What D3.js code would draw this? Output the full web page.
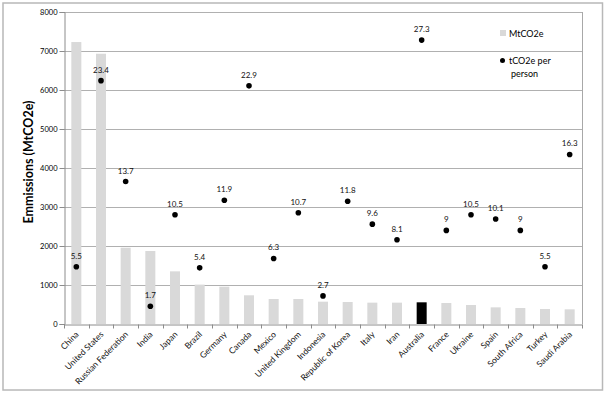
<!DOCTYPE html>
<html lang="en">
<head>
    <meta charset="UTF-8">
    <script src="https://d3js.org/d3.v7.min.js"></script>
    <title>Emissions</title>
    <style>
        body { margin: 0; background: #fff; }
        text { font-family: Lato, "Open Sans", sans-serif; }
    </style>
</head>
<body>
    <div id="canvas"></div>
</body>
    <script>
        const countries = ["China","United States","Russian Federation","India","Japan","Brazil","Germany","Canada","Mexico","United Kingdom","Indonesia","Republic of Korea","Italy","Iran","Australia","France","Ukraine","Spain","South Africa","Turkey","Saudi Arabia"]
        const mtco2e = [7230,6930,1956,1872,1350,1010,957,736,641,641,572,564,547,547,556,538,487,427,410,385,376]
        const perPerson = [5.5,23.4,13.7,1.7,10.5,5.4,11.9,22.9,6.3,10.7,2.7,11.8,9.6,8.1,27.3,9,10.5,10.1,9,5.5,16.3]
        const yTicks = [0,1000,2000,3000,4000,5000,6000,7000,8000]
        const highlight = "Australia"

        const W = 606, H = 396
        const margin = {top:12, right:24, bottom:72, left:64}
        const gW = 582 - margin.left
        const gH = 324 - margin.top

        const svg = d3.select("#canvas").append("svg").attr("width",W).attr("height",H)

        // outer frame
        svg.append("rect")
           .attr("x",3).attr("y",3).attr("width",599.5).attr("height",387)
           .attr("fill","none").attr("stroke","#b8b8b8").attr("stroke-width",1.5)

        const g = svg.append("g").attr("transform",`translate(${margin.left},${margin.top})`)

        const x = d3.scaleBand().domain(countries).range([0,gW])
        const y = d3.scaleLinear().domain([0,8000]).range([gH,0])
        const y2 = d3.scaleLinear().domain([0,30]).range([gH,0])

        // gridlines
        g.selectAll(".grid").data(yTicks.slice(1)).enter().append("line")
         .attr("x1",0).attr("x2",gW)
         .attr("y1",d=>Math.round(y(d))+0.5).attr("y2",d=>Math.round(y(d))+0.5)
         .attr("stroke","#b0b0b0").attr("stroke-width",1.2)
        g.append("line").attr("x1",gW+0.5).attr("x2",gW+0.5).attr("y1",0).attr("y2",gH)
         .attr("stroke","#a8a8a8")

        // bars
        const bw = 10
        g.selectAll(".bar").data(countries).enter().append("rect")
         .attr("x",d=>x(d)+x.bandwidth()/2-bw/2)
         .attr("width",bw)
         .attr("y",(d,i)=>y(mtco2e[i]))
         .attr("height",(d,i)=>gH-y(mtco2e[i]))
         .attr("fill",d=>d===highlight?"#000":"#d9d9d9")

        // dots
        g.selectAll(".dot").data(countries).enter().append("circle")
         .attr("cx",d=>x(d)+x.bandwidth()/2)
         .attr("cy",(d,i)=>y2(perPerson[i]))
         .attr("r",2.8).attr("fill","#000")
        g.selectAll(".lbl").data(countries).enter().append("text")
         .attr("x",d=>x(d)+x.bandwidth()/2)
         .attr("y",(d,i)=>y2(perPerson[i])-8)
         .attr("text-anchor","middle").style("font-size","8px").attr("fill","#111")
         .text((d,i)=>perPerson[i])

        // y axis
        const yAxis = d3.axisLeft(y).tickValues(yTicks).tickSize(5).tickFormat(d3.format("d"))
        const gy = g.append("g").attr("transform","translate(0.5,0)").call(yAxis)
        gy.select(".domain").attr("stroke","#8c8c8c")
        gy.selectAll(".tick line").attr("stroke","#8c8c8c")
        gy.selectAll(".tick text").style("font-size","7.5px").attr("fill","#000").attr("x",-7)

        // x axis
        const xAxis = d3.axisBottom(x).tickSize(0).tickFormat("")
        const gx = g.append("g").attr("transform",`translate(0,${gH+0.5})`).call(xAxis)
        gx.select(".domain").attr("stroke","#8c8c8c")
        gx.selectAll(".sep").data(countries.concat([null])).enter().append("line")
          .attr("x1",(d,i)=>Math.round(i*x.bandwidth())+0.5).attr("x2",(d,i)=>Math.round(i*x.bandwidth())+0.5)
          .attr("y1",0).attr("y2",4).attr("stroke","#8c8c8c")
        g.selectAll(".xl").data(countries).enter().append("text")
         .attr("transform",d=>`translate(${x(d)+x.bandwidth()/2+3},${gH+11}) rotate(-45)`)
         .attr("text-anchor","end").style("font-size","8.5px").attr("fill","#111")
         .text(d=>d)

        // y title
        svg.append("text")
           .attr("transform","translate(33,162) rotate(-90)")
           .attr("text-anchor","middle").style("font-size","12.5px").style("font-weight","bold")
           .text("Emmissions (MtCO2e)")

        // legend
        const lg = svg.append("g").attr("transform","translate(500,30)")
        lg.append("rect").attr("x",0).attr("y",0).attr("width",6).attr("height",6).attr("fill","#d9d9d9")
        lg.append("text").attr("x",9).attr("y",7).style("font-size","9px").text("MtCO2e")
        lg.append("circle").attr("cx",2.5).attr("cy",30.5).attr("r",2.5).attr("fill","#000")
        lg.append("text").attr("x",9).attr("y",34).style("font-size","9px").text("tCO2e per")
        lg.append("text").attr("x",11).attr("y",47).style("font-size","9px").text("person")
    </script>
</html>
